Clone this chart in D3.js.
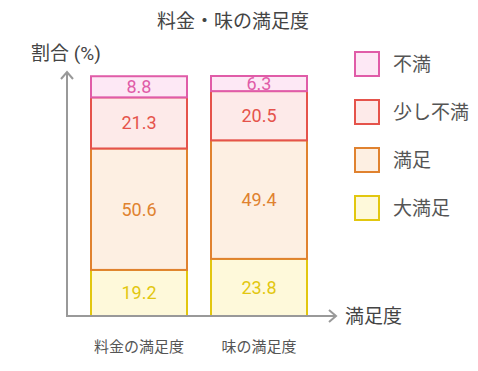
<!DOCTYPE html>
<html lang="ja">
<head>
<meta charset="UTF-8">
<script src="https://d3js.org/d3.v7.min.js"></script>
<style>
  body { margin: 0; background: #fff; }
  text { font-family: Roboto, "Noto Sans CJK JP", sans-serif; }
</style>
</head>
<body>
<script>
  // データ
  const categories = ["料金の満足度", "味の満足度"];
  const levels = ["大満足", "満足", "少し不満", "不満"]; // 下から積み上げ
  const bigSatisfied = [19.2, 23.8];
  const satisfied = [50.6, 49.4];
  const slightlyUnsat = [21.3, 20.5];
  const unsatisfied = [8.8, 6.3];
  const legendOrder = ["不満", "少し不満", "満足", "大満足"];

  const strokeColors = { "不満": "#e05ca8", "少し不満": "#e5534b", "満足": "#e0822f", "大満足": "#e2c70f" };
  const fillColors = { "不満": "#fde8f5", "少し不満": "#fdeae9", "満足": "#fdefe2", "大満足": "#fef9da" };

  const width = 478, height = 371;
  const svg = d3.select("body").append("svg")
    .attr("width", width).attr("height", height);

  const x = d3.scaleBand().domain(categories).range([67, 331]).paddingInner(0.2).paddingOuter(0.2);
  const y = d3.scaleLinear().domain([0, 100]).range([316, 76]);

  const rows = categories.map((c, i) => ({
    cat: c, "大満足": bigSatisfied[i], "満足": satisfied[i], "少し不満": slightlyUnsat[i], "不満": unsatisfied[i]
  }));
  const stacked = d3.stack().keys(levels)(rows);

  // 棒
  stacked.forEach(layer => {
    const g = svg.append("g");
    g.selectAll("rect").data(layer).enter().append("rect")
      .attr("x", d => x(d.data.cat))
      .attr("y", d => y(d[1]))
      .attr("width", x.bandwidth())
      .attr("height", d => y(d[0]) - y(d[1]))
      .attr("fill", fillColors[layer.key])
      .attr("stroke", strokeColors[layer.key])
      .attr("stroke-width", 2);
  });
  stacked.forEach(layer => {
    svg.append("g").selectAll("text").data(layer).enter().append("text")
      .attr("x", d => x(d.data.cat) + x.bandwidth() / 2)
      .attr("y", d => (y(d[0]) + y(d[1])) / 2)
      .attr("dy", "0.36em")
      .attr("text-anchor", "middle")
      .attr("font-size", 18)
      .attr("fill", strokeColors[layer.key])
      .text(d => (d[1] - d[0]).toFixed(1));
  });

  // 軸
  const axisColor = "#999";
  svg.append("line").attr("x1", 67).attr("y1", 316).attr("x2", 67).attr("y2", 72)
    .attr("stroke", axisColor).attr("stroke-width", 2);
  svg.append("path").attr("d", "M61,79 L67,72 L73,79")
    .attr("fill", "none").attr("stroke", axisColor).attr("stroke-width", 2);
  svg.append("line").attr("x1", 66).attr("y1", 316).attr("x2", 336).attr("y2", 316)
    .attr("stroke", axisColor).attr("stroke-width", 2);
  svg.append("path").attr("d", "M329,310 L336,316 L329,322")
    .attr("fill", "none").attr("stroke", axisColor).attr("stroke-width", 2);

  // カテゴリ名
  svg.append("g").selectAll("text").data(categories).enter().append("text")
    .attr("x", d => x(d) + x.bandwidth() / 2)
    .attr("y", 352)
    .attr("text-anchor", "middle")
    .attr("font-size", 15)
    .attr("fill", "#555")
    .text(d => d);

  // タイトル・軸ラベル
  svg.append("text").attr("x", 233).attr("y", 28).attr("text-anchor", "middle")
    .attr("font-size", 19).attr("fill", "#444").text("料金・味の満足度");
  svg.append("text").attr("x", 31).attr("y", 60)
    .attr("font-size", 19).attr("fill", "#444").text("割合 (%)");
  svg.append("text").attr("x", 345).attr("y", 323)
    .attr("font-size", 19).attr("fill", "#444").text("満足度");

  // 凡例
  const legend = svg.append("g").selectAll("g").data(legendOrder).enter().append("g")
    .attr("transform", (d, i) => `translate(355,${52 + i * 48})`);
  legend.append("rect").attr("width", 24).attr("height", 24)
    .attr("fill", d => fillColors[d]).attr("stroke", d => strokeColors[d]).attr("stroke-width", 2);
  legend.append("text").attr("x", 38).attr("y", 12).attr("dy", "0.36em")
    .attr("font-size", 19).attr("fill", "#555").text(d => d);
</script>
</body>
</html>
